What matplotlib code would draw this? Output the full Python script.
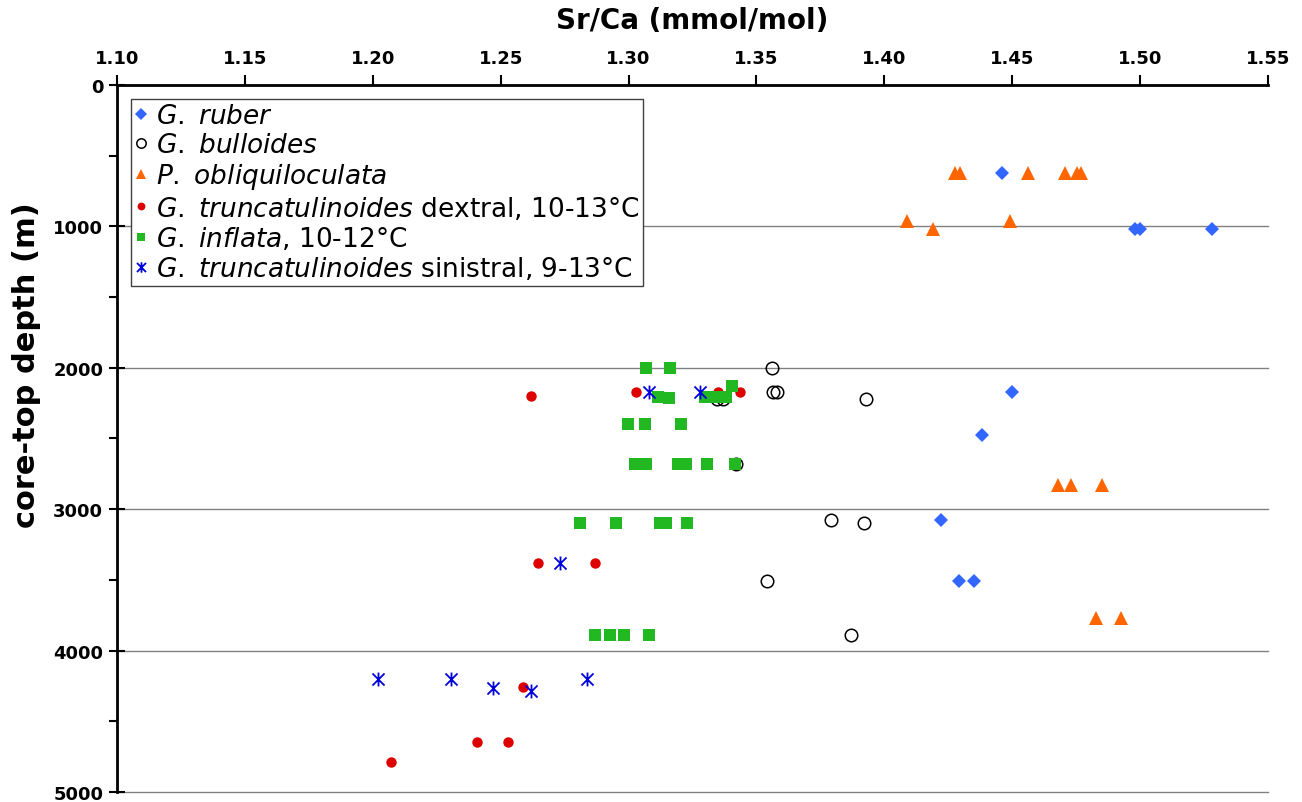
import matplotlib
matplotlib.use("Agg")
import matplotlib.pyplot as plt
from matplotlib.path import Path
from matplotlib.ticker import MultipleLocator

plt.rcParams['font.family'] = 'DejaVu Sans'
plt.rcParams['mathtext.fontset'] = 'custom'
plt.rcParams['mathtext.it'] = 'DejaVu Sans:italic'
plt.rcParams['mathtext.rm'] = 'DejaVu Sans'

# Sr/Ca (mmol/mol) vs core-top depth (m)
ruber_x = [1.446, 1.498, 1.500, 1.528, 1.450, 1.438, 1.422, 1.429, 1.435]
ruber_y = [620, 1020, 1020, 1020, 2170, 2475, 3080, 3510, 3510]

bull_x = [1.356, 1.3565, 1.358, 1.393, 1.3345, 1.337, 1.342, 1.379, 1.392, 1.354, 1.387]
bull_y = [2000, 2170, 2170, 2220, 2220, 2220, 2680, 3080, 3100, 3510, 3890]

obl_x = [1.4276, 1.4296, 1.456, 1.4706, 1.4753, 1.4768, 1.409, 1.419, 1.449,
         1.468, 1.473, 1.485, 1.4827, 1.4925]
obl_y = [620, 620, 620, 620, 620, 620, 960, 1020, 960,
         2830, 2830, 2830, 3770, 3770]

dex_x = [1.262, 1.303, 1.335, 1.3435, 1.2646, 1.287, 1.2587, 1.2407, 1.2528, 1.207]
dex_y = [2200, 2170, 2170, 2170, 3380, 3380, 4260, 4650, 4650, 4790]

infl_x = [1.307, 1.316, 1.3404, 1.3115, 1.3158, 1.330, 1.333, 1.336, 1.338,
          1.2998, 1.3064, 1.3205,
          1.3025, 1.307, 1.3193, 1.3225, 1.3307, 1.3416,
          1.281, 1.295, 1.3123, 1.3146, 1.323,
          1.2869, 1.2927, 1.2982, 1.308]
infl_y = [2000, 2000, 2130, 2210, 2215, 2210, 2210, 2210, 2210,
          2400, 2400, 2400,
          2680, 2680, 2680, 2680, 2680, 2680,
          3100, 3100, 3100, 3100, 3100,
          3890, 3890, 3890, 3890]

sin_x = [1.3079, 1.328, 1.2732, 1.202, 1.2305, 1.247, 1.2618, 1.2837]
sin_y = [2170, 2170, 3380, 4200, 4200, 4265, 4285, 4200]

labels = [r"$\it{G.}$ $\it{ruber}$",
          r"$\it{G.}$ $\it{bulloides}$",
          r"$\it{P.}$ $\it{obliquiloculata}$",
          r"$\it{G.}$ $\it{truncatulinoides}$ dextral, 10-13°C",
          r"$\it{G.}$ $\it{inflata}$, 10-12°C",
          r"$\it{G.}$ $\it{truncatulinoides}$ sinistral, 9-13°C"]

# asterisk marker: an x with a vertical bar
star = Path([(-1, -1), (1, 1), (-1, 1), (1, -1), (0, -1.15), (0, 1.15)],
            [Path.MOVETO, Path.LINETO, Path.MOVETO, Path.LINETO, Path.MOVETO, Path.LINETO])

fig = plt.figure(figsize=(13.02, 8.03), dpi=100)
ax = fig.add_axes([0.0899, 0.0125, 0.884, 0.8804])

ax.plot(ruber_x, ruber_y, 'D', color='#3366FF', ms=7.5, mew=0, label=labels[0])
ax.plot(bull_x, bull_y, 'o', mfc='none', mec='black', ms=9, mew=1.1, label=labels[1])
ax.plot(obl_x, obl_y, '^', color='#FF6600', ms=10, mew=0, label=labels[2])
ax.plot(dex_x, dex_y, 'o', color='#DD0000', ms=7.5, mew=0, label=labels[3])
ax.plot(infl_x, infl_y, 's', color='#22B822', ms=8, mew=0, label=labels[4])
ax.plot(sin_x, sin_y, linestyle='none', marker=star, mfc='none', mec='#0000DD',
        ms=10, mew=1.3, label=labels[5])

ax.set_xlim(1.10, 1.55)
ax.set_ylim(5000, 0)
ax.xaxis.tick_top()
ax.xaxis.set_label_position('top')
ax.xaxis.set_major_locator(MultipleLocator(0.05))
ax.xaxis.set_major_formatter(matplotlib.ticker.FormatStrFormatter('%.2f'))
ax.yaxis.set_major_locator(MultipleLocator(1000))
ax.yaxis.set_minor_locator(MultipleLocator(500))

ax.tick_params(axis='x', which='major', direction='out', length=7, width=1.5,
               labelsize=13, pad=6)
ax.tick_params(axis='y', which='major', direction='inout', length=12, width=1.5,
               labelsize=13, pad=4)
ax.tick_params(axis='y', which='minor', direction='out', length=6, width=1.5)
for lab in ax.get_xticklabels() + ax.get_yticklabels():
    lab.set_fontweight('bold')

ax.grid(axis='y', which='major', color='#808080', linewidth=1)
ax.set_axisbelow(True)
for gl in ax.get_ygridlines():
    gl.set_clip_on(False)
for s in ['right', 'bottom']:
    ax.spines[s].set_visible(False)
for s in ['top', 'left']:
    ax.spines[s].set_linewidth(2)

ax.set_xlabel('Sr/Ca (mmol/mol)', fontsize=20, fontweight='bold', labelpad=15)
ax.set_ylabel('core-top depth (m)', fontsize=22, fontweight='bold')
ax.yaxis.set_label_coords(-0.066, 0.605)

leg = ax.legend(loc='upper left', bbox_to_anchor=(0.012, 0.98), fontsize=19,
                frameon=True, fancybox=False, edgecolor='#404040', framealpha=1,
                handlelength=0.5, handletextpad=0.3, borderpad=0.15,
                labelspacing=0.12, borderaxespad=0, markerscale=0.75)
leg.get_frame().set_linewidth(1)

fig.savefig('out.png', dpi=100)
